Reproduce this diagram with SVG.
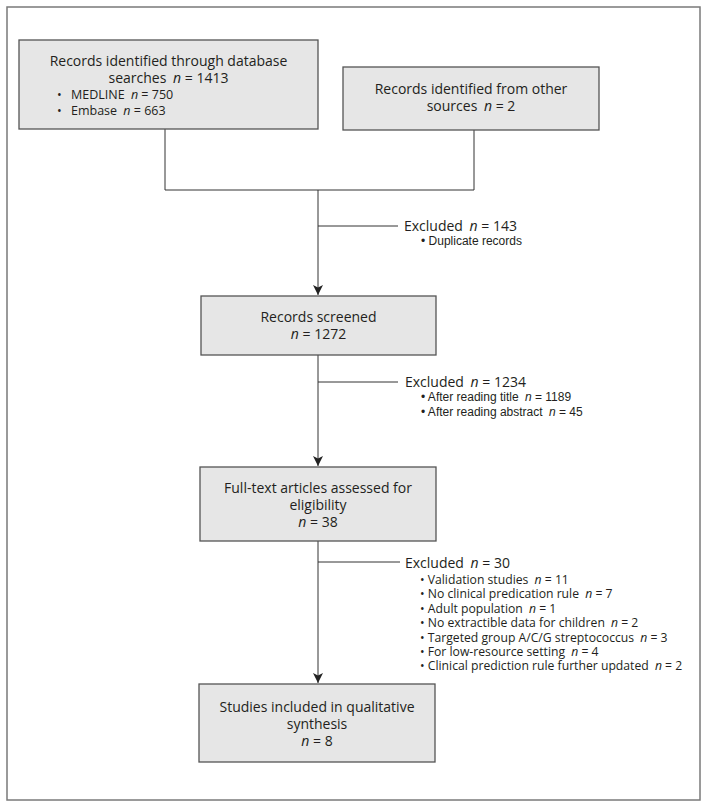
<svg xmlns="http://www.w3.org/2000/svg" width="708" height="808" viewBox="0 0 708 808">
<style>
.frame{fill:#fff;stroke:#7a7a7a;stroke-width:1.5}
.box{fill:#e6e6e6;stroke:#555;stroke-width:1.3}
.t{font-family:"Open Sans","Noto Sans","Liberation Sans",sans-serif;font-size:14px;fill:#231f20}
.tc{text-anchor:middle}
.s{font-family:"Open Sans","Noto Sans","Liberation Sans",sans-serif;font-size:12.2px;fill:#231f20}
.b{font-family:"Open Sans","Noto Sans","Liberation Sans",sans-serif;font-size:12.5px;fill:#231f20}
.a{font-family:"Liberation Sans",Arial,sans-serif;font-size:12px;fill:#231f20}
.i{font-style:italic}
.ln{fill:none;stroke:#333;stroke-width:1}
</style>
<defs>
<marker id="arr" markerWidth="10" markerHeight="12" refX="10" refY="6" orient="auto" markerUnits="userSpaceOnUse">
<path d="M0,1 L10,6 L0,11 L2.5,6 Z" fill="#222"/>
</marker>
</defs>
<rect class="frame" x="7" y="7" width="693" height="793"/>
<g id="connectors">
<polyline class="ln" points="165,129 165,190 474,190 474,130"/>
<line class="ln" x1="318" y1="190" x2="318" y2="295" marker-end="url(#arr)"/>
<line class="ln" x1="318" y1="226" x2="398" y2="226"/>
<line class="ln" x1="318" y1="355" x2="318" y2="466" marker-end="url(#arr)"/>
<line class="ln" x1="318" y1="382" x2="398" y2="382"/>
<line class="ln" x1="318" y1="541" x2="318" y2="683" marker-end="url(#arr)"/>
<line class="ln" x1="318" y1="562" x2="400" y2="562"/>
</g>
<g id="db">
<rect class="box" x="19" y="40" width="299" height="89"/>
<text class="t tc" x="168.5" y="66">Records identified through database</text>
<text class="t tc" x="168.5" y="83">searches <tspan class="i" dx="3">n</tspan> = 1413</text>
<text class="b" x="57" y="99">•</text>
<text class="b" x="71" y="99">MEDLINE <tspan class="i" dx="3">n</tspan> = 750</text>
<text class="b" x="57" y="115">•</text>
<text class="b" x="71" y="115">Embase <tspan class="i" dx="3">n</tspan> = 663</text>
</g>
<g id="other">
<rect class="box" x="343" y="67" width="256" height="63"/>
<text class="t tc" x="471" y="94">Records identified from other</text>
<text class="t tc" x="471" y="111">sources <tspan class="i" dx="3">n</tspan> = 2</text>
</g>
<g id="excl1">
<text class="t" x="404" y="231">Excluded <tspan class="i" dx="3">n</tspan> = 143</text>
<text class="a" x="421" y="245">• Duplicate records</text>
</g>
<g id="screened">
<rect class="box" x="201" y="296" width="235" height="59"/>
<text class="t tc" x="318.5" y="322">Records screened</text>
<text class="t tc" x="318.5" y="339"><tspan class="i">n</tspan> = 1272</text>
</g>
<g id="excl2">
<text class="t" x="405" y="387">Excluded <tspan class="i" dx="3">n</tspan> = 1234</text>
<text class="a" x="421" y="401">• After reading title <tspan class="i" dx="3">n</tspan> = 1189</text>
<text class="a" x="421" y="416">• After reading abstract <tspan class="i" dx="3">n</tspan> = 45</text>
</g>
<g id="fulltext">
<rect class="box" x="200" y="467" width="236" height="74"/>
<text class="t tc" x="318" y="493">Full-text articles assessed for</text>
<text class="t tc" x="318" y="510">eligibility</text>
<text class="t tc" x="318" y="527"><tspan class="i">n</tspan> = 38</text>
</g>
<g id="excl3">
<text class="t" x="405" y="568">Excluded <tspan class="i" dx="3">n</tspan> = 30</text>
<text class="s" x="420" y="584">• Validation studies <tspan class="i" dx="3">n</tspan> = 11</text>
<text class="s" x="420" y="598.4">• No clinical predication rule <tspan class="i" dx="3">n</tspan> = 7</text>
<text class="s" x="420" y="612.8">• Adult population <tspan class="i" dx="3">n</tspan> = 1</text>
<text class="s" x="420" y="627.2">• No extractible data for children <tspan class="i" dx="3">n</tspan> = 2</text>
<text class="s" x="420" y="641.6">• Targeted group A/C/G streptococcus <tspan class="i" dx="3">n</tspan> = 3</text>
<text class="s" x="420" y="656">• For low-resource setting <tspan class="i" dx="3">n</tspan> = 4</text>
<text class="s" x="420" y="670.4">• Clinical prediction rule further updated <tspan class="i" dx="3">n</tspan> = 2</text>
</g>
<g id="included">
<rect class="box" x="199" y="684" width="236" height="78"/>
<text class="t tc" x="317" y="712">Studies included in qualitative</text>
<text class="t tc" x="317" y="729">synthesis</text>
<text class="t tc" x="317" y="746"><tspan class="i">n</tspan> = 8</text>
</g>
</svg>
